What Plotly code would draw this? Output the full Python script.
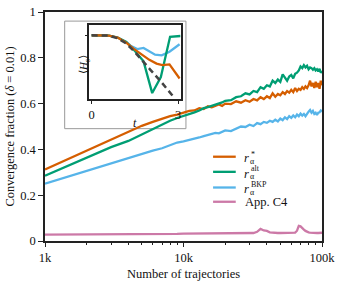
import plotly.graph_objects as go

# ---------------- main data ----------------
n_traj_k = [1, 1.5, 2, 3, 4, 5, 6, 7, 8, 9, 10, 11, 12, 13, 14, 15, 16, 17, 18, 19, 20,
            22, 24, 26, 28, 30, 32, 34, 36, 38, 40, 42, 44, 46, 48, 50, 52, 54, 56, 58, 60,
            62, 64, 66, 68, 70, 72, 74, 76, 78, 80, 82, 84, 86, 88, 90, 92, 94, 96, 98, 100]

r_star = [0.312, 0.36, 0.395, 0.445, 0.478, 0.503, 0.52, 0.535, 0.545, 0.552, 0.56, 0.568, 0.57,
          0.58, 0.576, 0.588, 0.584, 0.592, 0.596, 0.59, 0.60, 0.598, 0.61, 0.604, 0.615, 0.608,
          0.62, 0.614, 0.628, 0.62, 0.632, 0.624, 0.645, 0.63, 0.642, 0.636, 0.65, 0.642, 0.655,
          0.648, 0.66, 0.65, 0.668, 0.655, 0.665, 0.66, 0.672, 0.664, 0.675, 0.668, 0.68, 0.70,
          0.675, 0.69, 0.668, 0.695, 0.672, 0.69, 0.665, 0.70, 0.68]

r_alt = [0.285, 0.33, 0.365, 0.41, 0.437, 0.465, 0.49, 0.51, 0.525, 0.537, 0.545, 0.555, 0.562,
         0.57, 0.58, 0.585, 0.59, 0.595, 0.60, 0.605, 0.612, 0.615, 0.628, 0.632, 0.645, 0.64,
         0.655, 0.65, 0.672, 0.665, 0.68, 0.675, 0.70, 0.69, 0.705, 0.695, 0.728, 0.712, 0.70,
         0.718, 0.725, 0.71, 0.73, 0.735, 0.745, 0.762, 0.755, 0.768, 0.758, 0.765, 0.75, 0.758,
         0.755, 0.748, 0.755, 0.745, 0.75, 0.74, 0.752, 0.735, 0.742]

r_bkp = [0.25, 0.283, 0.307, 0.34, 0.365, 0.383, 0.395, 0.405, 0.418, 0.43, 0.435, 0.44, 0.445,
         0.452, 0.458, 0.462, 0.468, 0.472, 0.47, 0.478, 0.483, 0.48, 0.492, 0.50, 0.498, 0.508,
         0.502, 0.515, 0.51, 0.52, 0.516, 0.525, 0.52, 0.53, 0.522, 0.535, 0.528, 0.54, 0.532,
         0.545, 0.538, 0.548, 0.54, 0.552, 0.545, 0.556, 0.548, 0.555, 0.545, 0.558, 0.565, 0.572,
         0.56, 0.568, 0.555, 0.56, 0.55, 0.56, 0.562, 0.57, 0.565]

app_c4 = [0.028, 0.028, 0.029, 0.029, 0.030, 0.030, 0.030, 0.031, 0.031, 0.031, 0.032, 0.032, 0.032,
          0.032, 0.033, 0.033, 0.033, 0.033, 0.033, 0.034, 0.034, 0.034, 0.034, 0.034, 0.035, 0.035,
          0.035, 0.040, 0.053, 0.046, 0.044, 0.038, 0.036, 0.036, 0.035, 0.035, 0.035, 0.035, 0.036,
          0.036, 0.036, 0.036, 0.037, 0.045, 0.066, 0.064, 0.055, 0.050, 0.044, 0.040, 0.038, 0.037,
          0.036, 0.036, 0.036, 0.036, 0.035, 0.035, 0.036, 0.035, 0.036]

series_names = ["r_alpha^*", "r_alpha^alt", "r_alpha^BKP", "App. C4"]
legend_sup = ["*", "alt", "BKP", None]
colors = ["#D55E00", "#009E73", "#56B4E9", "#CC79A7"]

x_tickvals = [1000, 10000, 100000]
x_ticktext = ["1k", "10k", "100k"]
y_tickvals = [0, 0.2, 0.4, 0.6, 0.8, 1]
y_ticktext = ["0", "0.2", "0.4", "0.6", "0.8", "1"]

# ---------------- inset data ----------------
t_smooth = [0, 0.3, 0.6, 0.9, 1.2, 1.45, 1.7, 2.0, 2.25, 2.45, 2.7, 3.05]
h_star = [0.86, 0.86, 0.855, 0.83, 0.76, 0.68, 0.61, 0.53, 0.48, 0.46, 0.47, 0.28]
t_bkp = [0, 0.3, 0.6, 0.9, 1.2, 1.35, 1.58, 1.8, 2.0, 2.2, 2.43, 2.7, 3.05]
h_bkp = [0.86, 0.86, 0.855, 0.83, 0.77, 0.72, 0.675, 0.69, 0.64, 0.60, 0.59, 0.64, 0.74]
t_alt = [0, 0.3, 0.6, 0.9, 1.2, 1.5, 1.8, 2.1, 2.4, 2.72, 3.08]
h_alt = [0.86, 0.86, 0.855, 0.83, 0.77, 0.65, 0.51, 0.085, 0.30, 0.84, 0.85]
t_ref = [0, 0.3, 0.6, 0.9, 1.2, 1.46, 1.75, 2.03, 2.4, 2.85]
h_ref = [0.86, 0.86, 0.855, 0.82, 0.75, 0.65, 0.53, 0.40, 0.24, 0.03]

FONT = "Liberation Serif"
AX = "#222222"

n_traj = [v * 1000 for v in n_traj_k]

fig = go.Figure()
for name, vals, c in zip(series_names, [r_star, r_alt, r_bkp, app_c4], colors):
    fig.add_trace(go.Scatter(x=n_traj, y=vals, mode="lines", name=name, showlegend=False,
                             line=dict(color=c, width=2.3), xaxis="x", yaxis="y"))

inset_kw = dict(mode="lines", showlegend=False, xaxis="x2", yaxis="y2")
fig.add_trace(go.Scatter(x=t_bkp, y=h_bkp, line=dict(color=colors[2], width=2.3), **inset_kw))
fig.add_trace(go.Scatter(x=t_alt, y=h_alt, line=dict(color=colors[1], width=2.3), **inset_kw))
fig.add_trace(go.Scatter(x=t_smooth, y=h_star, line=dict(color=colors[0], width=2.3), **inset_kw))
fig.add_trace(go.Scatter(x=t_ref, y=h_ref, line=dict(color="#444444", width=2.5, dash="6px,4px"), **inset_kw))

# ---- plot-area geometry (pixels) for a hand-drawn legend ----
W, H = 340, 284
ML, MR, MT, MB = 45, 14, 5, 38
PW, PH = W - ML - MR, H - MT - MB


def px(x):
    return (x - ML) / PW


def py(y):
    return (H - MB - y) / PH


shapes = [dict(type="rect", xref="x2 domain", yref="y2 domain",
               x0=-0.27, x1=1.057, y0=-0.392, y1=1.05, layer="below",
               fillcolor="rgba(255,255,255,0.82)", line=dict(color="#999999", width=1))]
annotations = [
    dict(text="<i>t</i>", xref="x2 domain", yref="y2 domain", x=0.5, y=-0.2,
         showarrow=False, font=dict(size=12), yanchor="top"),
    dict(text="⟨<i>H</i><sub>s</sub>⟩", xref="x2 domain", yref="y2 domain", x=-0.15, y=0.47,
         showarrow=False, textangle=-90, font=dict(size=11)),
]

legend_rows = [157.3, 173.2, 189.7, 204.7]
for row_y, c, sup, name in zip(legend_rows, colors, legend_sup, series_names):
    shapes.append(dict(type="line", xref="paper", yref="paper", x0=px(215.5), x1=px(238.5),
                       y0=py(row_y), y1=py(row_y), line=dict(color=c, width=2.3)))
    if sup is None:
        annotations.append(dict(text=name, xref="paper", yref="paper", x=px(246.5), y=py(row_y + 0.5),
                                xanchor="left", yanchor="middle", showarrow=False,
                                font=dict(size=12.5), borderpad=0))
    else:
        annotations.append(dict(text="<i>r</i>", xref="paper", yref="paper", x=px(246.3), y=py(row_y + 1.8),
                                xanchor="left", yanchor="middle", showarrow=False,
                                font=dict(size=12.5), borderpad=0))
        annotations.append(dict(text="α", xref="paper", yref="paper", x=px(252.3), y=py(row_y + 5.0),
                                xanchor="left", yanchor="middle", showarrow=False,
                                font=dict(size=8), borderpad=0))
        annotations.append(dict(text=sup, xref="paper", yref="paper", x=px(252.5),
                                y=py(row_y - (2.6 if sup == "*" else 3.4)),
                                xanchor="left", yanchor="middle", showarrow=False,
                                font=dict(size=8), borderpad=0))

fig.update_layout(
    width=W, height=H,
    margin=dict(l=ML, r=MR, t=MT, b=MB),
    paper_bgcolor="white", plot_bgcolor="white",
    showlegend=False,
    font=dict(family=FONT, size=12, color="#111111"),
    xaxis=dict(type="log", range=[3, 5], tickvals=x_tickvals, ticktext=x_ticktext,
               ticks="outside", ticklen=4.5, tickwidth=1, tickcolor=AX,
               showline=True, linecolor=AX, linewidth=1.5, mirror=True,
               showgrid=False, zeroline=False, tickfont=dict(size=12.5),
               minor=dict(tickvals=[k * m for m in (1000, 10000) for k in range(2, 10)],
                          ticks="outside", ticklen=2.5, tickwidth=0.8, tickcolor=AX, showgrid=False),
               title=dict(text="Number of trajectories", standoff=5, font=dict(size=12.5))),
    yaxis=dict(range=[0, 1], tickvals=y_tickvals, ticktext=y_ticktext,
               ticks="outside", ticklen=5, tickwidth=1, tickcolor=AX,
               showline=True, linecolor=AX, linewidth=1.5, mirror=True,
               showgrid=False, zeroline=False, tickfont=dict(size=12.5),
               title=dict(text="Convergence fraction (<i>δ</i> = 0.01)", standoff=3, font=dict(size=12.5))),
    xaxis2=dict(domain=[px(90), px(182.7)], anchor="y2", range=[-0.08, 3.09],
                tickvals=[0, 3], ticktext=["0", "3"], ticks="outside", ticklen=3,
                tickcolor=AX, showline=True, linecolor=AX, linewidth=1.5, mirror=True,
                showgrid=False, zeroline=False, tickfont=dict(size=12.5)),
    yaxis2=dict(domain=[py(97), py(18.5)], anchor="x2", range=[0, 1],
                tickvals=[0.86], ticktext=[""], ticks="outside", ticklen=3,
                tickcolor=AX, showline=True, linecolor=AX, linewidth=1.5, mirror=True,
                showgrid=False, zeroline=False),
    shapes=shapes,
    annotations=annotations,
)

fig.write_html("out.html", config={"displayModeBar": False},
               post_script="document.body.style.margin='0';")
